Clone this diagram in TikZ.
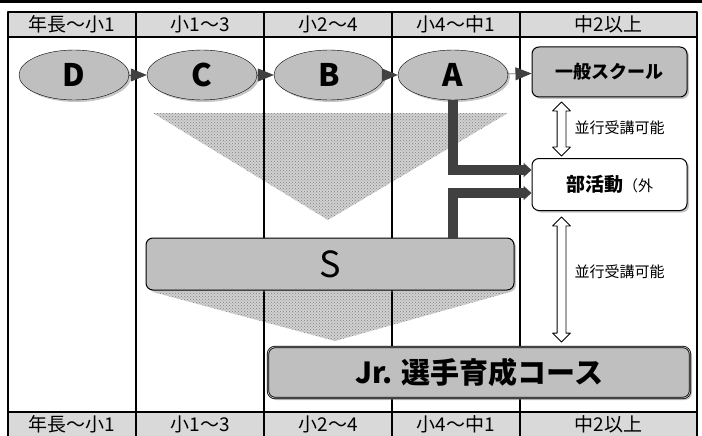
\documentclass[tikz,border=0pt]{standalone}
\usepackage{fontspec}
\setmainfont{Noto Sans CJK JP}
\usetikzlibrary{arrows.meta,shadows,patterns,shapes.geometric,shapes.arrows}
\definecolor{hdrfill}{rgb}{0.85,0.85,0.85}
\definecolor{ovalfill}{rgb}{0.75,0.75,0.75}
\definecolor{barfill}{rgb}{0.25,0.25,0.25}
\definecolor{dotfill}{rgb}{0.5,0.5,0.5}
\definecolor{dotback}{rgb}{0.82,0.82,0.82}

\begin{document}
\begin{tikzpicture}[x=1pt,y=-1pt,line join=round,
	hdr/.style={font=\fontsize{19}{19}\selectfont},
	oval/.style={ellipse,draw,fill=ovalfill,minimum width=110,minimum height=50,inner sep=0,drop shadow={opacity=0.45,shadow xshift=2pt,shadow yshift=-2pt},font=\fontsize{31}{31}\selectfont\bfseries},
	roundbox/.style={rectangle,rounded corners=7pt,draw,line width=1pt,fill=ovalfill,inner sep=0,drop shadow={opacity=0.45,shadow xshift=2pt,shadow yshift=-2pt}},
	tip/.style={draw=barfill,fill=barfill,line width=0.6pt,-{Triangle[length=16pt,width=13pt]}},
	bar/.style={draw=barfill,line width=10pt,line join=miter,-{Triangle[length=8pt,width=14pt]}},
	par/.style={double arrow,draw,fill=white,line width=0.8pt,rotate=90,inner xsep=0,inner ysep=4pt,double arrow head extend=4.5pt},
	partext/.style={font=\fontsize{15}{15}\selectfont,anchor=west},
	dots/.style={fill=dotback,postaction={pattern=crosshatch dots,pattern color=dotfill}}]
	\useasboundingbox (0,0) rectangle (702,436);
	\fill (0,0) rectangle (702,3);
	\draw[fill=hdrfill,line width=1.2pt] (8,12) rectangle (697,37);
	\draw[fill=hdrfill,line width=1.2pt] (8,412) rectangle (697,440);
	\path[dots] (153,113) -- (508,113) -- (328,220) -- cycle;
	\path[dots] (153,292) -- (510,292) -- (335,341) -- cycle;
	\foreach \x in {8,136,264,392,520,697}
		\draw[line width=1.2pt] (\x,12) -- (\x,440);
	\foreach \cx/\lab [count=\i] in {72/年長～小1,200/小1～3,328/小2～4,456/小4～中1,608.5/中2以上}{
		\node[hdr] (h\i) at (\cx,24.5) {\lab};
		\node[hdr] (b\i) at (\cx,424.5) {\lab};
	}
	\node[oval] (D) at (74,75) {D};
	\node[oval] (C) at (202,75) {C};
	\node[oval] (B) at (329,75) {B};
	\node[oval] (A) at (453,75) {A};
	\node[roundbox,minimum width=155,minimum height=50,font=\fontsize{18}{18}\selectfont\bfseries] (school) at (609.5,72) {一般スクール};
	\node[roundbox,fill=white,minimum width=155,minimum height=52] (club) at (609.5,184.5) {{\fontsize{19}{19}\selectfont\bfseries 部活動}{\fontsize{15}{15}\selectfont （外}};
	\node[roundbox,minimum width=368,minimum height=52,font=\fontsize{36}{36}\selectfont] (S) at (330,264) {S};
	\node[roundbox,double=ovalfill,double distance=0.7pt,line width=0.8pt,minimum width=422,minimum height=51,font=\fontsize{29}{29}\selectfont\bfseries] (jr) at (479,372.5) {Jr. 選手育成コース};
	\draw[tip] (D) -- (C);
	\draw[tip] (C) -- (B);
	\draw[tip] (B) -- (A);
	\draw[tip] (A) -- (school);
	\draw[bar] (A.south) |- ([yshift=14.5pt]club.west);
	\draw[bar] (A.south |- S.north) |- ([yshift=-8.5pt]club.west);
	\node[par,minimum height=54] (p1) at (561.5,129) {};
	\node[par,minimum height=125] (p2) at (561.5,279.5) {};
	\node[partext] (t1) at (571,128) {並行受講可能};
	\node[partext] (t2) at (571,272) {並行受講可能};
\end{tikzpicture}
\end{document}
